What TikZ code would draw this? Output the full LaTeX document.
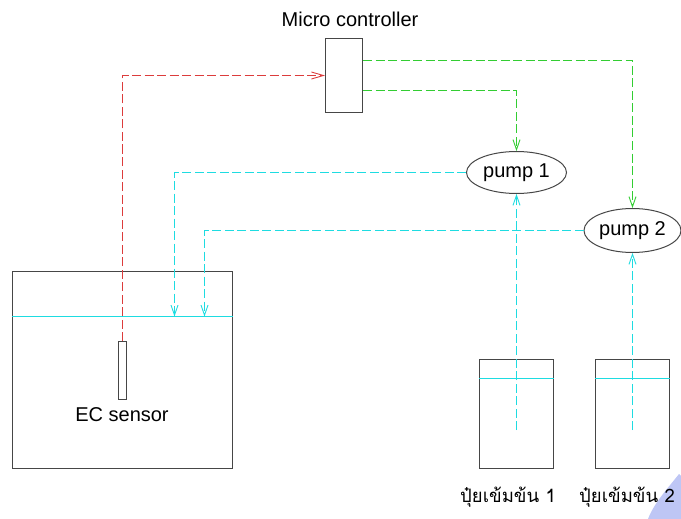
\documentclass[tikz,border=0pt]{standalone}
\usepackage{fontspec}
\setmainfont{Liberation Sans}
\newfontfamily\thaifont[Script=Thai]{Loma}
\usetikzlibrary{arrows.meta,shapes.geometric}
\definecolor{outl}{RGB}{70,70,70}
\definecolor{sigred}{RGB}{220,60,60}
\definecolor{siggreen}{RGB}{50,205,50}
\definecolor{watercyan}{RGB}{30,220,225}
\definecolor{wmark}{RGB}{190,198,245}
\tikzset{
  box/.style={draw=outl, line width=1pt, minimum width=#1, inner sep=0pt},
  pumpnode/.style={ellipse, draw=outl, line width=1pt, inner sep=0pt, font=\fontsize{20}{24}\selectfont},
  lbl/.style={font=\fontsize{20}{24}\selectfont, inner sep=0pt},
  thailbl/.style={font=\fontsize{18.5}{22}\selectfont\thaifont, inner sep=0pt},
  arrowtip/.style={-{Straight Barb[length=#1,width=7pt,line width=0.9pt]}},
  redline/.style={draw=sigred, line width=1.2pt, dash pattern=on 9pt off 3.5pt, arrowtip=12pt},
  greenline/.style={draw=siggreen, line width=1.2pt, dash pattern=on 9pt off 3.5pt, arrowtip=10pt},
  cyanline/.style={draw=watercyan, line width=1.2pt, dash pattern=on 9pt off 3.5pt, arrowtip=10pt},
  waterline/.style={draw=watercyan, line width=1.2pt}
}
\begin{document}
\begin{tikzpicture}[x=1pt,y=-1pt]
\useasboundingbox (0,0) rectangle (681,519);
% faint watermark fragment
\begin{scope}
\clip (0,0) rectangle (681,519);
\fill[wmark] (679,474) .. controls (668,488) and (654,503) .. (648,519) -- (681,519) -- (681,476) -- cycle;
\end{scope}

% micro controller
\node[box=37pt, minimum height=74pt] (mc) at (344,75.5) {};
\node[lbl] (mctext) at (350,19) {Micro controller};

% pumps
\node[pumpnode, minimum width=100pt, minimum height=42pt] (pump1) at (516.5,172.5) {pump 1};
\node[pumpnode, minimum width=97pt, minimum height=44pt] (pump2) at (632.5,230.5) {pump 2};

% main tank
\node[box=220pt, minimum height=197pt] (tank) at (122.5,370) {};
\draw[waterline] (tank.west |- 0,316.5) -- (tank.east |- 0,316.5);
\node[box=8pt, minimum height=58pt] (sensor) at (122.5,370.5) {};
\node[lbl] (ectext) at (122,415) {EC sensor};

% bottles
\node[box=74pt, minimum height=109pt] (bottle1) at (516.5,414) {};
\node[box=74pt, minimum height=109pt] (bottle2) at (632.5,414) {};
\draw[waterline] (bottle1.west |- 0,378.5) -- (bottle1.east |- 0,378.5);
\draw[waterline] (bottle2.west |- 0,378.5) -- (bottle2.east |- 0,378.5);
\node[thailbl] (lab1) at (508,497) {ปุ๋ยเข้มข้น 1};
\node[thailbl] (lab2) at (627,497) {ปุ๋ยเข้มข้น 2};

% coordinates
\coordinate (in1) at (174.5,316.5);
\coordinate (in2) at (204.5,316.5);
\coordinate (b1) at (516.5,430);
\coordinate (b2) at (632.5,430);

% connectors
\draw[redline] (sensor.north) |- (mc.west);
\draw[greenline] ([yshift=15pt]mc.east) -| (pump2.north);
\draw[greenline] ([yshift=-15pt]mc.east) -| (pump1.north);
\draw[cyanline] (pump1.west) -| (in1);
\draw[cyanline] (pump2.west) -| (in2);
\draw[cyanline] (b1) -- (pump1.south);
\draw[cyanline] (b2) -- (pump2.south);
\end{tikzpicture}
\end{document}
